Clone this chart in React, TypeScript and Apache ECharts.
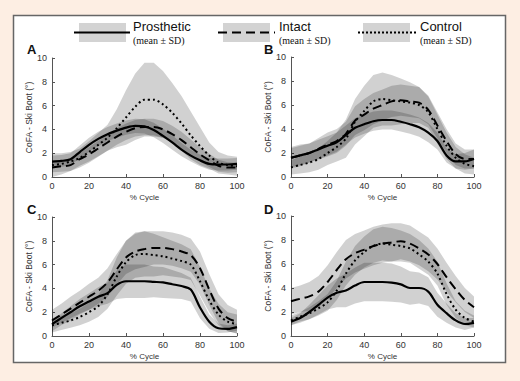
import React, { useEffect, useRef } from "react";
import * as echarts from "echarts";

const X = [0, 5, 10, 15, 20, 25, 30, 35, 40, 45, 50, 55, 60, 65, 70, 75, 80, 85, 90, 95, 100];
const PANELS = ["A", "B", "C", "D"];
const SERIES_NAMES = ["Prosthetic", "Intact", "Control"];

// Panel A
const A_prosMean = [1.3, 1.35, 1.5, 2.1, 2.7, 3.2, 3.6, 3.9, 4.15, 4.3, 4.25, 3.95, 3.45, 2.9, 2.3, 1.8, 1.4, 1.1, 1.05, 1.05, 1.1];
const A_prosSd = [0.5, 0.5, 0.5, 0.55, 0.6, 0.6, 0.6, 0.6, 0.6, 0.6, 0.6, 0.6, 0.6, 0.6, 0.55, 0.5, 0.5, 0.5, 0.5, 0.5, 0.5];
const A_intMean = [0.8, 0.9, 1.0, 1.5, 1.9, 2.4, 2.9, 3.4, 3.8, 4.1, 4.2, 4.2, 4.0, 3.6, 3.1, 2.5, 1.9, 1.4, 0.95, 0.8, 0.8];
const A_intSd = [0.4, 0.45, 0.5, 0.55, 0.6, 0.65, 0.7, 0.7, 0.7, 0.7, 0.7, 0.7, 0.7, 0.7, 0.7, 0.65, 0.6, 0.55, 0.5, 0.45, 0.4];
const A_conMean = [1.0, 1.1, 1.3, 1.6, 2.1, 2.7, 3.3, 4.1, 5.0, 5.9, 6.5, 6.5, 6.1, 5.4, 4.5, 3.5, 2.6, 1.8, 1.2, 1.0, 0.9];
const A_conSd = [1.0, 0.9, 0.8, 0.8, 0.9, 1.0, 1.1, 1.6, 2.3, 2.8, 3.1, 3.1, 2.8, 2.5, 2.3, 2.0, 1.6, 1.1, 0.9, 0.8, 0.8];

// Panel B
const B_prosMean = [1.6, 1.8, 2.0, 2.3, 2.6, 2.9, 3.5, 4.1, 4.4, 4.65, 4.75, 4.75, 4.6, 4.4, 4.15, 3.7, 3.0, 1.8, 1.3, 1.3, 1.5];
const B_prosSd = [0.9, 0.9, 0.8, 0.8, 0.8, 0.8, 0.8, 0.8, 0.8, 0.8, 0.8, 0.8, 0.8, 0.8, 0.8, 0.8, 0.7, 0.6, 0.6, 0.7, 0.8];
const B_intMean = [1.6, 1.8, 2.0, 2.35, 2.7, 3.0, 3.6, 4.7, 5.2, 5.7, 6.0, 6.3, 6.4, 6.3, 6.2, 5.6, 4.3, 3.0, 1.9, 1.5, 1.5];
const B_intSd = [0.8, 0.8, 0.8, 0.9, 1.0, 1.0, 1.0, 1.2, 1.3, 1.3, 1.3, 1.3, 1.3, 1.3, 1.3, 1.2, 1.1, 1.0, 0.9, 0.8, 0.8];
const B_conMean = [0.8, 1.0, 1.2, 1.5, 2.0, 2.5, 3.2, 4.6, 5.5, 6.3, 6.5, 6.4, 6.3, 6.2, 6.0, 5.4, 4.0, 2.6, 1.6, 1.1, 0.9];
const B_conSd = [0.6, 0.7, 0.8, 0.9, 1.0, 1.2, 1.6, 1.9, 2.1, 2.2, 2.2, 2.1, 1.9, 1.7, 1.5, 1.3, 1.2, 1.1, 0.9, 0.8, 0.7];

// Panel C
const C_prosMean = [1.0, 1.5, 2.0, 2.5, 2.9, 3.3, 3.6, 4.3, 4.6, 4.6, 4.6, 4.55, 4.5, 4.35, 4.2, 3.9, 2.4, 1.2, 0.65, 0.6, 0.75];
const C_prosSd = [0.3, 0.4, 0.5, 0.6, 0.7, 0.8, 0.9, 1.2, 1.4, 1.4, 1.4, 1.3, 1.3, 1.2, 1.1, 1.0, 0.9, 0.6, 0.4, 0.3, 0.3];
const C_intMean = [1.3, 1.8, 2.3, 2.8, 3.3, 3.8, 4.5, 5.6, 6.6, 7.1, 7.3, 7.4, 7.4, 7.3, 7.1, 6.8, 5.7, 3.9, 2.3, 1.5, 1.2];
const C_intSd = [0.9, 0.9, 1.0, 1.0, 1.1, 1.1, 1.2, 1.3, 1.4, 1.5, 1.5, 1.4, 1.4, 1.4, 1.4, 1.4, 1.4, 1.3, 1.2, 1.1, 1.0];
const C_conMean = [0.9, 1.1, 1.3, 1.6, 2.0, 2.5, 3.5, 5.0, 6.2, 6.8, 6.9, 6.8, 6.7, 6.5, 6.3, 6.0, 4.6, 3.0, 1.8, 1.2, 1.0];
const C_conSd = [0.6, 0.6, 0.6, 0.7, 0.8, 0.9, 1.2, 1.6, 1.8, 1.9, 1.9, 1.8, 1.6, 1.5, 1.4, 1.3, 1.2, 1.0, 0.9, 0.8, 0.8];

// Panel D
const D_prosMean = [1.2, 1.5, 2.0, 2.6, 3.2, 3.6, 3.8, 4.2, 4.5, 4.5, 4.5, 4.45, 4.3, 4.0, 4.0, 3.7, 2.6, 1.9, 1.3, 1.0, 1.1];
const D_prosSd = [0.3, 0.4, 0.6, 0.8, 1.0, 1.2, 1.4, 1.5, 1.6, 1.6, 1.6, 1.6, 1.5, 1.4, 1.3, 1.2, 1.0, 0.8, 0.6, 0.5, 0.4];
const D_intMean = [2.9, 3.1, 3.3, 3.7, 4.5, 5.5, 6.4, 6.9, 7.2, 7.5, 7.7, 7.8, 7.9, 7.7, 7.3, 6.8, 6.0, 4.9, 3.9, 3.0, 2.4];
const D_intSd = [1.1, 1.1, 1.2, 1.3, 1.4, 1.5, 1.6, 1.6, 1.6, 1.6, 1.6, 1.6, 1.5, 1.5, 1.4, 1.4, 1.3, 1.2, 1.1, 1.0, 0.9];
const D_conMean = [1.3, 1.6, 1.9, 2.3, 2.8, 3.8, 5.2, 6.3, 7.0, 7.5, 7.7, 7.6, 7.5, 7.3, 6.8, 6.2, 5.2, 3.5, 2.2, 1.5, 1.2];
const D_conSd = [0.4, 0.4, 0.5, 0.6, 0.7, 0.8, 1.0, 1.2, 1.3, 1.4, 1.4, 1.4, 1.3, 1.2, 1.2, 1.1, 1.0, 0.9, 0.7, 0.6, 0.5];

const PANEL_DATA = [
  [[A_prosMean, A_prosSd], [A_intMean, A_intSd], [A_conMean, A_conSd]],
  [[B_prosMean, B_prosSd], [B_intMean, B_intSd], [B_conMean, B_conSd]],
  [[C_prosMean, C_prosSd], [C_intMean, C_intSd], [C_conMean, C_conSd]],
  [[D_prosMean, D_prosSd], [D_intMean, D_intSd], [D_conMean, D_conSd]],
];

const SANS = "'Liberation Sans', Arial, sans-serif";
const SERIF = "'Liberation Serif', 'Times New Roman', serif";
const BAND = "rgba(0,0,0,0.18)";
const LINE_TYPES: any[] = ["solid", [9, 5], [2, 3]];

// grid boxes [left, top, width, height]
const GRIDS = [
  [52, 58, 185, 119],
  [291, 57, 183, 120],
  [52, 217, 185, 119],
  [291, 216, 183, 120],
];
const LABEL_POS = [
  [27, 43],
  [264, 43],
  [27, 203],
  [264, 203],
];

export default function App() {
  const ref = useRef<HTMLDivElement>(null);
  useEffect(() => {
    if (!ref.current) return;
    const chart = echarts.init(ref.current, null, { renderer: "svg" });

    const grid = GRIDS.map(([l, t, w, h]) => ({ left: l, top: t, width: w, height: h, containLabel: false }));
    const xAxis = GRIDS.map((_, i) => ({
      type: "value",
      gridIndex: i,
      min: 0,
      max: 100,
      interval: 20,
      name: "% Cycle",
      nameLocation: "middle",
      nameGap: 16,
      nameTextStyle: { fontFamily: SANS, fontSize: 8, color: "#333" },
      axisLine: { lineStyle: { color: "#555", width: 1 } },
      axisTick: { inside: true, length: 3, lineStyle: { color: "#555" } },
      axisLabel: { fontFamily: SANS, fontSize: 9, color: "#333", margin: 4 },
      splitLine: { show: false },
    }));
    const yAxis = GRIDS.map((_, i) => ({
      type: "value",
      gridIndex: i,
      min: 0,
      max: 10,
      interval: 2,
      name: "CoFA - Ski Boot (°)",
      nameLocation: "middle",
      nameGap: 18,
      nameTextStyle: { fontFamily: SANS, fontSize: 8.5, color: "#333" },
      axisLine: { show: true, lineStyle: { color: "#555", width: 1 } },
      axisTick: { show: true, inside: true, length: 3, lineStyle: { color: "#555" } },
      axisLabel: { fontFamily: SANS, fontSize: 9, color: "#333", margin: 5 },
      splitLine: { show: false },
    }));

    const series: any[] = [];
    PANEL_DATA.forEach((panel, p) => {
      panel.forEach(([mean, sd], k) => {
        const rows = X.map((x, j) => [x, Math.max(0, mean[j] - sd[j]), Math.min(10, mean[j] + sd[j])]);
        series.push({
          type: "custom",
          name: `${SERIES_NAMES[k]} SD ${p}`,
          xAxisIndex: p,
          yAxisIndex: p,
          data: rows,
          encode: { x: 0, y: [1, 2] },
          silent: true,
          z: 1,
          renderItem: (params: any, api: any) => {
            if (params.dataIndex !== 0) return null;
            const upper = rows.map((r) => api.coord([r[0], r[2]]));
            const lower = rows.map((r) => api.coord([r[0], r[1]])).reverse();
            return {
              type: "polygon",
              shape: { points: upper.concat(lower), smooth: 0 },
              style: { fill: BAND, stroke: null },
            };
          },
        });
      });
      panel.forEach(([mean], k) => {
        series.push({
          type: "line",
          name: `${SERIES_NAMES[k]} ${p}`,
          xAxisIndex: p,
          yAxisIndex: p,
          data: X.map((x, j) => [x, mean[j]]),
          symbol: "none",
          smooth: 0.3,
          lineStyle: { color: "#000", width: k === 0 ? 2.2 : 2, type: LINE_TYPES[k] },
          z: 5,
        });
      });
    });

    const legendItems = [
      { rect: 79, line: [74, 130], text: 133 },
      { rect: 223, line: [218, 275], text: 279 },
      { rect: 363, line: [358, 416], text: 420 },
    ];
    const graphic: any[] = [
      {
        type: "rect",
        shape: { x: 13.5, y: 15.5, width: 492, height: 347 },
        style: { fill: "#fff", stroke: "#666", lineWidth: 1.5 },
        z: -10,
      },
    ];
    legendItems.forEach((it, k) => {
      graphic.push({
        type: "rect",
        shape: { x: it.rect, y: 23, width: 47, height: 19 },
        style: { fill: "#d3d3d3" },
      });
      graphic.push({
        type: "line",
        shape: { x1: it.line[0], y1: 32.5, x2: it.line[1], y2: 32.5 },
        style: { stroke: "#000", lineWidth: 2, lineDash: k === 0 ? null : k === 1 ? [9, 5] : [2, 2] },
      });
      graphic.push({
        type: "text",
        x: it.text,
        y: 20,
        style: { text: SERIES_NAMES[k], fontFamily: SANS, fontSize: 13, fill: "#111" },
      });
      graphic.push({
        type: "text",
        x: it.text,
        y: 35,
        style: { text: "(mean ± SD)", fontFamily: SERIF, fontSize: 10, fill: "#111" },
      });
    });
    PANELS.forEach((lab, i) => {
      graphic.push({
        type: "text",
        x: LABEL_POS[i][0],
        y: LABEL_POS[i][1],
        style: { text: lab, fontFamily: SANS, fontSize: 13, fontWeight: "bold", fill: "#111" },
      });
    });

    chart.setOption({
      animation: false,
      backgroundColor: "#fdeee3",
      grid,
      xAxis,
      yAxis,
      series,
      graphic,
    });
    return () => chart.dispose();
  }, []);

  return (
    <div
      ref={ref}
      style={{ position: "fixed", left: 0, top: 0, width: 520, height: 381 }}
    />
  );
}
